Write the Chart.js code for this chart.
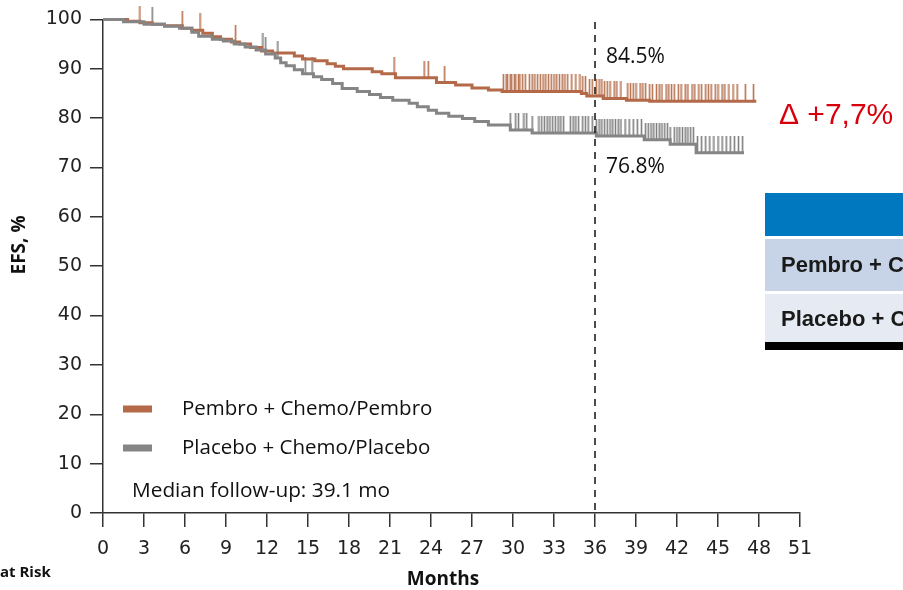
<!DOCTYPE html>
<html>
<head>
<meta charset="utf-8">
<script src="https://cdn.jsdelivr.net/npm/chart.js@4.4.1/dist/chart.umd.min.js"></script>
<style>
  html, body { margin: 0; padding: 0; background: #fff; overflow: hidden; }
</style>
</head>
<body>
<canvas id="kmChart" width="903" height="590"></canvas>
<script>
    // KM step curves: month where the curve drops -> EFS value from that month on
    const pembroMonths = [0, 1.8, 2.7, 3.6, 4.5, 5.8, 6.5, 7.3, 8.0, 8.6, 9.4, 10.0, 10.8, 11.6, 12.4, 14.0, 14.6, 15.5, 16.4, 17.0, 17.6, 19.7, 20.4, 21.4, 24.4, 25.8, 27.0, 28.2, 29.2, 35.0, 35.4, 36.6, 38.3, 40.0, 47.8];
    const pembroEFS = [100, 99.6, 99.3, 99.0, 98.7, 98.2, 97.8, 97.2, 96.5, 96.0, 95.4, 95.0, 94.3, 93.6, 93.2, 92.6, 92.0, 91.6, 91.0, 90.5, 90.0, 89.4, 89.0, 88.2, 87.2, 86.7, 86.1, 85.7, 85.4, 85.0, 84.5, 84.0, 83.6, 83.4, 83.4];

    const placeboMonths = [0, 1.5, 3.0, 4.5, 5.6, 6.5, 7.0, 8.0, 8.8, 9.6, 10.4, 11.2, 11.9, 12.6, 13.0, 13.4, 14.0, 14.6, 15.4, 16.0, 16.8, 17.5, 18.6, 19.5, 20.3, 21.2, 22.4, 23.0, 23.8, 24.4, 25.3, 26.3, 27.2, 28.2, 29.8, 31.4, 36.1, 39.6, 41.5, 43.4, 46.9];
    const placeboEFS = [100, 99.5, 99.0, 98.6, 98.2, 97.4, 96.6, 96.0, 95.6, 95.0, 94.4, 93.8, 93.0, 92.2, 91.2, 90.6, 89.8, 89.0, 88.4, 87.8, 87.0, 86.0, 85.4, 84.8, 84.2, 83.6, 83.0, 82.3, 81.6, 81.0, 80.4, 79.9, 79.3, 78.6, 77.6, 77.0, 76.4, 75.6, 74.7, 73.0, 73.0];

    // censored patients (months)
    const pembroCensored = [2.7, 5.8, 7.1, 9.7, 21.3, 23.5, 23.8, 25.0,
      29.3, 29.5, 29.6, 29.8, 29.9, 30.1, 30.2, 30.4, 30.5, 30.7, 30.9, 31.2, 31.4, 31.6, 31.8, 32.0, 32.2, 32.4, 32.6, 32.8, 33.0, 33.2, 33.4, 33.6, 33.8, 34.0, 34.3, 34.6, 34.9,
      35.1, 35.3, 35.6, 35.8, 36.1, 36.3, 36.5, 36.7, 36.9, 37.1, 37.4, 37.6, 37.9, 38.4, 38.6, 38.8, 39.0, 39.3, 39.5, 39.7, 40.0, 40.2, 40.5, 40.7, 40.9, 41.2, 41.4, 41.6, 41.8,
      42.1, 42.3, 42.6, 42.8, 43.1, 43.3, 43.6, 43.8, 44.1, 44.3, 44.5, 44.8, 45.0, 45.3, 45.5, 45.8, 46.1, 46.4, 47.0, 47.6];
    const placeboCensored = [3.6, 11.7, 11.9, 12.8, 14.8, 15.3,
      29.8, 30.2, 30.4, 30.8, 31.0, 31.4, 31.9, 32.1, 32.3, 32.5, 32.7, 32.9, 33.1, 33.3, 33.5, 33.7, 34.2, 34.4, 34.6, 34.8, 35.1, 35.3, 35.5, 35.8,
      36.1, 36.3, 36.5, 36.7, 36.9, 37.1, 37.3, 37.5, 37.7, 37.9, 38.2, 38.5, 38.8, 39.1, 39.4, 39.7, 39.9, 40.1, 40.3, 40.5, 40.7, 40.9, 41.1, 41.3, 41.5,
      41.8, 42.0, 42.2, 42.4, 42.6, 42.8, 43.0, 43.2, 43.5, 43.8, 44.1, 44.4, 44.7, 45.0, 45.3, 45.6, 45.9, 46.2, 46.5, 46.8];

    const seriesNames = ['Pembro + Chemo/Pembro', 'Placebo + Chemo/Placebo'];
    const landmarkMonth = 36;
    const landmarkLabels = ['84.5%', '76.8%'];
    const deltaLabel = 'Δ +7,7%';
    const followUpLabel = 'Median follow-up: 39.1 mo';
    const tableRows = ['Pembro + Chemo/Pembro', 'Placebo + Chemo/Placebo'];

    const ORANGE = '#b46a48';
    const GREY = '#858585';

    // value of a step curve at month t (last drop at or before t)
    function stepValue(months, efs, t) {
      let v = efs[0];
      for (let i = 0; i < months.length; i++) {
        if (months[i] <= t) v = efs[i];
      }
      return v;
    }

    // censor mark: canvas twice as tall as the tick so it rises up from the point
    function censorMark(color, h) {
      const c = document.createElement('canvas');
      c.width = 3; c.height = h * 2;
      const g = c.getContext('2d');
      g.strokeStyle = color;
      g.lineWidth = 1.6;
      g.beginPath();
      g.moveTo(1.5, 0);
      g.lineTo(1.5, h);
      g.stroke();
      return c;
    }

    const toPoints = (m, v) => m.map((x, i) => ({x: x, y: v[i]}));
    const censorPoints = (cens, m, v) => cens.map(t => ({x: t, y: stepValue(m, v, t)}));

    // extra drawing: dashed landmark, labels, legend, table
    const extras = {
      id: 'extras',
      afterDatasetsDraw(chart) {
        const {ctx, scales: {x, y}} = chart;
        const xp = x.getPixelForValue(landmarkMonth);
        ctx.save();
        ctx.strokeStyle = '#111';
        ctx.lineWidth = 1.5;
        ctx.setLineDash([7, 6]);
        ctx.beginPath();
        ctx.moveTo(xp, 22);
        ctx.lineTo(xp, y.getPixelForValue(0));
        ctx.stroke();
        ctx.setLineDash([]);

        ctx.fillStyle = '#111';
        ctx.font = '21px "Open Sans"';
        ctx.textAlign = 'left';
        ctx.textBaseline = 'middle';
        ctx.fillText(landmarkLabels[0], xp + 11, 57);
        ctx.fillText(landmarkLabels[1], xp + 11, 167);

        // legend
        const cols = [ORANGE, GREY];
        ctx.font = '20.5px "Open Sans"';
        seriesNames.forEach((name, i) => {
          const yy = 409 + i * 39;
          ctx.fillStyle = cols[i];
          ctx.fillRect(123, yy - 3.5, 29, 7);
          ctx.fillStyle = '#111';
          ctx.fillText(name, 182, yy);
        });
        ctx.font = '20.8px "Open Sans"';
        ctx.fillText(followUpLabel, 132, 491);

        // axis titles
        ctx.font = 'bold 19px "Open Sans"';
        ctx.textAlign = 'center';
        ctx.fillText('Months', 443, 580);
        ctx.save();
        ctx.translate(20, 245);
        ctx.rotate(-Math.PI / 2);
        ctx.font = 'bold 19px "Open Sans"';
        ctx.fillText('EFS, %', 0, 0);
        ctx.restore();
        ctx.font = 'bold 15px "Open Sans"';
        ctx.textAlign = 'left';
        ctx.fillText('at Risk', 0, 573);

        // delta
        ctx.fillStyle = '#d9000d';
        ctx.font = '30px "Liberation Sans"';
        ctx.fillText(deltaLabel, 779, 116);

        // table (cut by the picture edge)
        ctx.fillStyle = '#0078c0';
        ctx.fillRect(765, 193, 138, 43);
        ctx.fillStyle = '#c7d3e6';
        ctx.fillRect(765, 239, 138, 52);
        ctx.fillStyle = '#e6eaf3';
        ctx.fillRect(765, 294, 138, 48);
        ctx.fillStyle = '#000';
        ctx.fillRect(765, 342, 138, 8);
        ctx.beginPath();
        ctx.rect(765, 236, 138, 110);
        ctx.clip();
        ctx.fillStyle = '#1a1a1a';
        ctx.font = 'bold 22px "Liberation Sans"';
        ctx.fillText(tableRows[0], 781, 266);
        ctx.fillText(tableRows[1], 781, 320);
        ctx.restore();
      }
    };

    const data = {
      datasets: [
        {
          label: seriesNames[1],
          data: toPoints(placeboMonths, placeboEFS),
          borderColor: GREY,
          borderWidth: 3,
          stepped: true,
          pointRadius: 0,
          order: 1
        },
        {
          label: seriesNames[0],
          data: toPoints(pembroMonths, pembroEFS),
          borderColor: ORANGE,
          borderWidth: 3,
          stepped: true,
          pointRadius: 0,
          order: 2
        },
        {
          type: 'scatter',
          data: censorPoints(pembroCensored, pembroMonths, pembroEFS),
          pointStyle: censorMark('#b87352', 17),
          order: 3
        },
        {
          type: 'scatter',
          data: censorPoints(placeboCensored, placeboMonths, placeboEFS),
          pointStyle: censorMark('#7f7f7f', 17),
          order: 4
        }
      ]
    };

    const config = {
      type: 'line',
      data: data,
      plugins: [extras],
      options: {
        responsive: false,
        animation: false,
        devicePixelRatio: 1,
        clip: false,
        layout: { padding: { left: 0, right: 103, top: 17, bottom: 0 } },
        plugins: { legend: { display: false }, tooltip: { enabled: false } },
        scales: {
          x: {
            type: 'linear',
            min: 0,
            max: 51,
            afterFit: s => { s.height = 77; },
            ticks: { stepSize: 3, padding: 11, color: '#222', font: { family: 'DejaVu Sans', size: 19 } },
            grid: { drawOnChartArea: false, tickLength: 14, color: '#333', lineWidth: 1.5 },
            border: { color: '#333', width: 1.5 }
          },
          y: {
            min: 0,
            max: 100,
            afterFit: s => { s.width = 103; },
            ticks: { stepSize: 10, padding: 8, color: '#222', font: { family: 'DejaVu Sans', size: 19 } },
            grid: { drawOnChartArea: false, tickLength: 13, color: '#333', lineWidth: 1.5 },
            border: { color: '#333', width: 1.5 }
          }
        }
      }
    };

    const kmChart = new Chart(document.getElementById('kmChart'), config);
</script>
</body>
</html>
